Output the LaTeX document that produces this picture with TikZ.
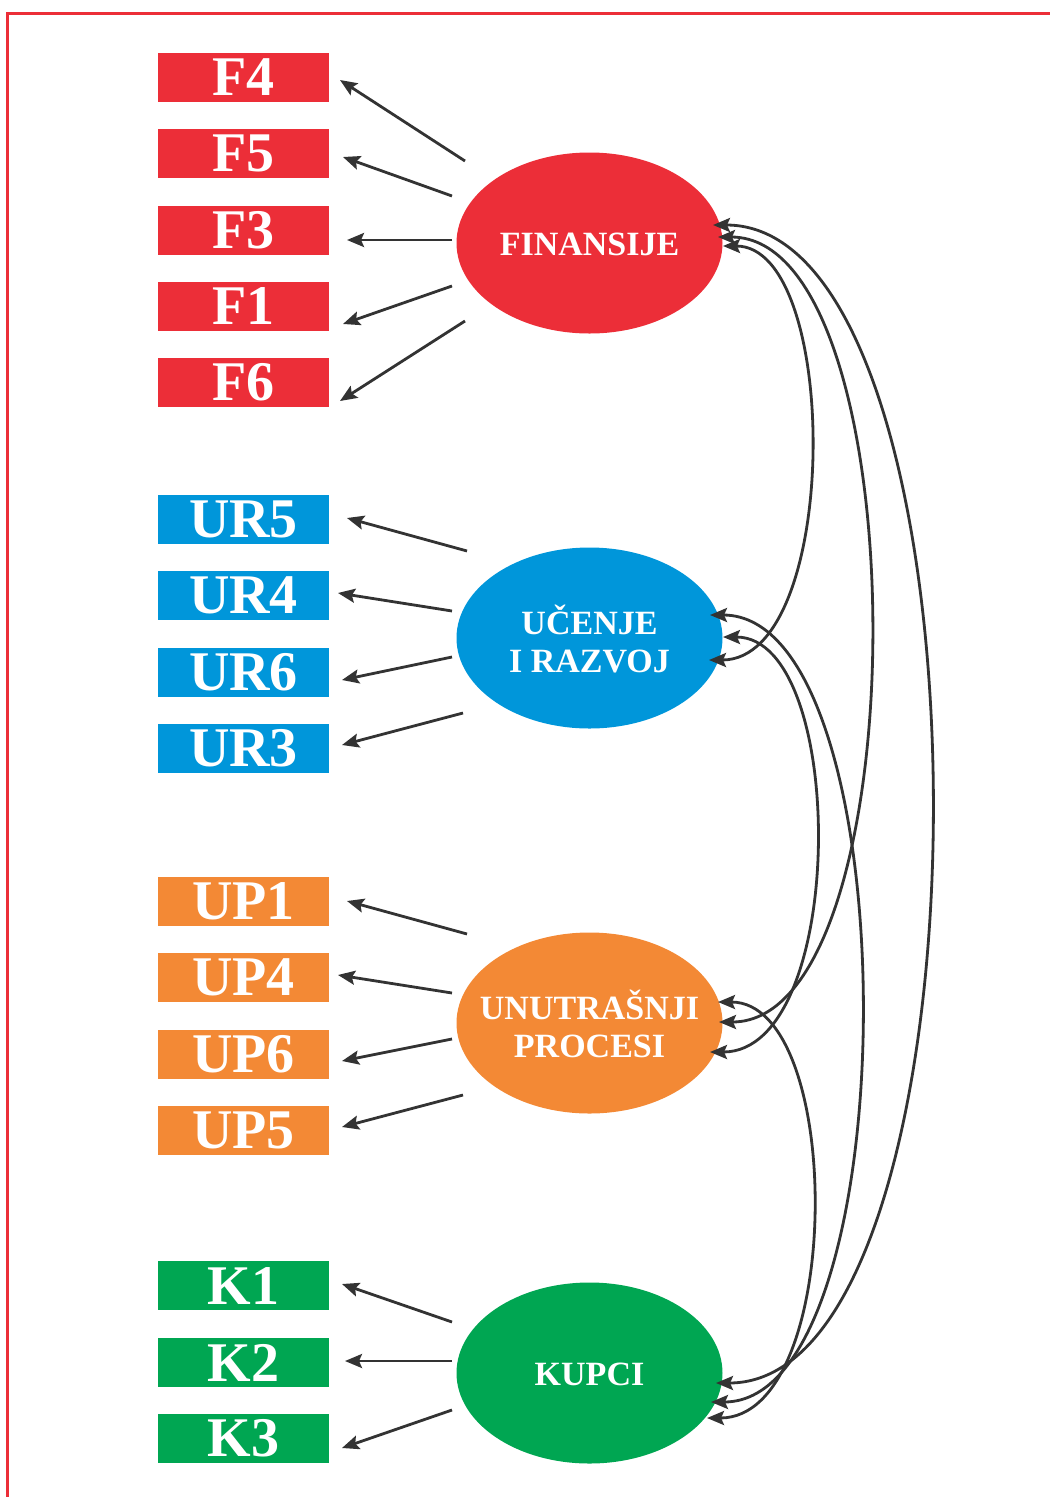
\documentclass[tikz,border=0pt]{standalone}
\usepackage{fontspec}
\setmainfont{Liberation Serif}
\usetikzlibrary{arrows.meta,shapes.geometric}
\definecolor{cRed}{RGB}{236,46,56}
\definecolor{cBlue}{RGB}{0,150,218}
\definecolor{cOrange}{RGB}{243,137,53}
\definecolor{cGreen}{RGB}{0,166,82}
\definecolor{cArrow}{RGB}{51,51,51}
\begin{document}
\begin{tikzpicture}[x=1pt,y=-1pt,
  ind/.style={rectangle, minimum width=171pt, minimum height=49pt, inner sep=0pt, text=white, font=\fontsize{56}{56}\selectfont\bfseries},
  lat/.style={ellipse, minimum width=266pt, minimum height=181pt, inner sep=0pt},
  lattext/.style={inner sep=0pt, text=white, align=center, font=\fontsize{34}{38}\selectfont\bfseries},
  load/.style={draw=cArrow, line width=2.8pt, -{Stealth[length=17pt,width=14pt,inset=3pt]}},
  cov/.style={draw=cArrow, line width=2.8pt, {Stealth[length=17pt,width=14pt,inset=3pt]}-{Stealth[length=17pt,width=14pt,inset=3pt]}},
]
\useasboundingbox (0,0) rectangle (1050,1497);
\draw[cRed, line width=3.5pt] (7.5,1497) -- (7.5,13.5) -- (1050,13.5);

% indicator boxes
\node[ind, fill=cRed] (F4) at (243.5,77.5) {F4};
\node[ind, fill=cRed] (F5) at (243.5,153.5) {F5};
\node[ind, fill=cRed] (F3) at (243.5,230.5) {F3};
\node[ind, fill=cRed] (F1) at (243.5,306.5) {F1};
\node[ind, fill=cRed] (F6) at (243.5,382.5) {F6};
\node[ind, fill=cBlue] (UR5) at (243.5,519.5) {UR5};
\node[ind, fill=cBlue] (UR4) at (243.5,595) {UR4};
\node[ind, fill=cBlue] (UR6) at (243.5,672) {UR6};
\node[ind, fill=cBlue] (UR3) at (243.5,748) {UR3};
\node[ind, fill=cOrange] (UP1) at (243.5,901) {UP1};
\node[ind, fill=cOrange] (UP4) at (243.5,977.5) {UP4};
\node[ind, fill=cOrange] (UP6) at (243.5,1054) {UP6};
\node[ind, fill=cOrange] (UP5) at (243.5,1130) {UP5};
\node[ind, fill=cGreen] (K1) at (243.5,1285.5) {K1};
\node[ind, fill=cGreen] (K2) at (243.5,1362.5) {K2};
\node[ind, fill=cGreen] (K3) at (243.5,1438) {K3};

% latent ellipses
\node[lat, fill=cRed] (F) at (589.5,243) {};
\node[lat, fill=cBlue] (U) at (589.5,638) {};
\node[lat, fill=cOrange] (P) at (589.5,1023) {};
\node[lat, fill=cGreen] (K) at (589.5,1373) {};
\node[lattext] (F-txt) at ([yshift=-1.5pt]F.center) {FINANSIJE};
\node[lattext] (U-txt) at ([yshift=-1pt]U.center) {UČENJE\\I RAZVOJ};
\node[lattext] (P-txt) at ([yshift=-0.5pt]P.center) {UNUTRAŠNJI\\PROCESI};
\node[lattext] (K-txt) at ([yshift=-1.5pt]K.center) {KUPCI};

% loading arrow tails (near ellipses) and tips (near boxes)
\coordinate (F-F4) at (465,161);  \coordinate (F4-t) at (340,80);
\coordinate (F-F5) at (452,196);  \coordinate (F5-t) at (343,157);
\coordinate (F-F3) at (452,240);  \coordinate (F3-t) at (347,240);
\coordinate (F-F1) at (452,286);  \coordinate (F1-t) at (343,324);
\coordinate (F-F6) at (465,321);  \coordinate (F6-t) at (340,401);
\coordinate (U-UR5) at (467,551); \coordinate (UR5-t) at (347,518);
\coordinate (U-UR4) at (452,611); \coordinate (UR4-t) at (338,593);
\coordinate (U-UR6) at (452,657); \coordinate (UR6-t) at (342,680);
\coordinate (U-UR3) at (463,713); \coordinate (UR3-t) at (342,745);
\coordinate (P-UP1) at (467,934); \coordinate (UP1-t) at (347,901);
\coordinate (P-UP4) at (452,993); \coordinate (UP4-t) at (338,975);
\coordinate (P-UP6) at (452,1039);\coordinate (UP6-t) at (342,1061);
\coordinate (P-UP5) at (463,1095);\coordinate (UP5-t) at (342,1127);
\coordinate (K-K1) at (452,1322); \coordinate (K1-t) at (342,1284);
\coordinate (K-K2) at (452,1361); \coordinate (K2-t) at (345,1361);
\coordinate (K-K3) at (452,1410); \coordinate (K3-t) at (342,1448);

\foreach \a/\b in {F-F4/F4-t, F-F5/F5-t, F-F3/F3-t, F-F1/F1-t, F-F6/F6-t,
  U-UR5/UR5-t, U-UR4/UR4-t, U-UR6/UR6-t, U-UR3/UR3-t,
  P-UP1/UP1-t, P-UP4/UP4-t, P-UP6/UP6-t, P-UP5/UP5-t,
  K-K1/K1-t, K-K2/K2-t, K-K3/K3-t}
  \draw[load] (\a) -- (\b);

% covariance end points on the ellipses
\coordinate (F-a) at (713,225);
\coordinate (F-b) at (718,237);
\coordinate (F-c) at (723,246);
\coordinate (U-a) at (710,615);
\coordinate (U-b) at (723,637);
\coordinate (U-c) at (709,660);
\coordinate (P-a) at (718,1002);
\coordinate (P-b) at (719,1022);
\coordinate (P-c) at (710,1052);
\coordinate (K-a) at (716,1383);
\coordinate (K-b) at (711,1402);
\coordinate (K-c) at (707,1418);

\draw[cov] (F-c) .. controls (841,246) and (841,660) .. (U-c);
\draw[cov] (F-b) .. controls (920,237) and (920,1022) .. (P-b);
\draw[cov] (F-a) .. controls (1002,225) and (1002,1383) .. (K-a);
\draw[cov] (U-a) .. controls (910,615) and (910,1402) .. (K-b);
\draw[cov] (U-b) .. controls (848,637) and (848,1052) .. (P-c);
\draw[cov] (P-a) .. controls (845,1002) and (845,1418) .. (K-c);
\end{tikzpicture}
\end{document}
